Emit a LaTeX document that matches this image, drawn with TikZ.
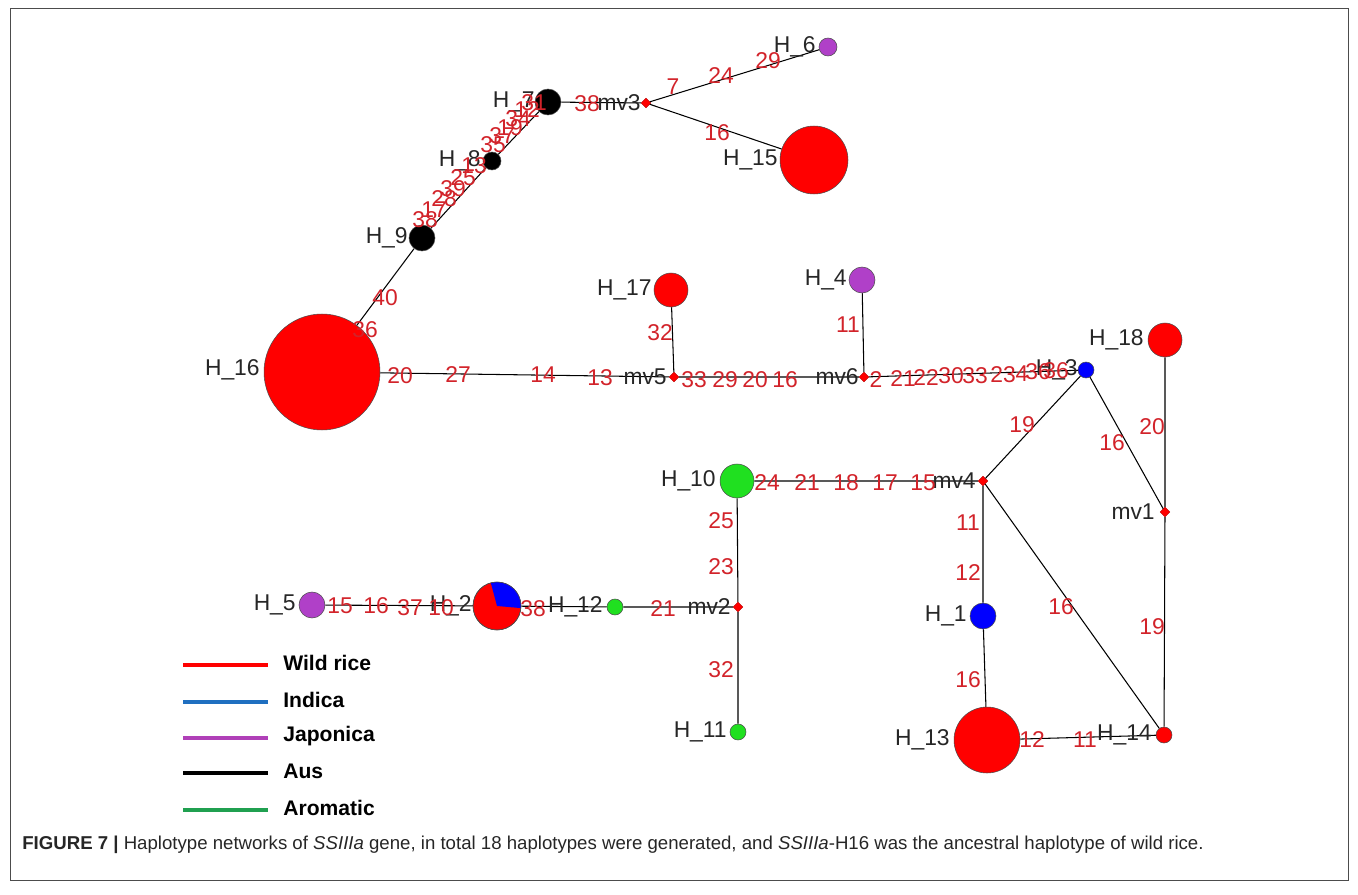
\documentclass[tikz,border=0pt]{standalone}
\usepackage{fontspec}
\setmainfont{Liberation Sans}
\usetikzlibrary{shapes.geometric}
\definecolor{numred}{HTML}{D2232A}
\definecolor{hred}{HTML}{FF0000}
\definecolor{hblue}{HTML}{0000FF}
\definecolor{hpurple}{HTML}{B040C8}
\definecolor{hgreen}{HTML}{20E020}
\definecolor{lblue}{HTML}{1F6FC0}
\definecolor{lpurple}{HTML}{B040B8}
\definecolor{lgreen}{HTML}{20A050}
\begin{document}
\begin{tikzpicture}[x=0.02cm,y=-0.02cm,
 hap/.style={circle,draw=black!70,line width=0.3pt,inner sep=0pt},
 mv/.style={diamond,fill=red,draw=red!70!black,line width=0.2pt,inner sep=0pt,minimum size=0.2cm},
 lab/.style={font=\fontsize{13}{15}\selectfont,text=black!85,inner sep=0pt,anchor=east},
 num/.style={font=\fontsize{13}{15}\selectfont,text=numred,inner sep=0pt},
 con/.style={line width=0.6pt,black},
 leg/.style={line width=2.8pt},
 legt/.style={font=\fontsize{12}{14}\selectfont\bfseries,anchor=west,inner sep=0pt}]
\useasboundingbox (0,0) rectangle (1358,895);
\draw[line width=0.5pt,black!70] (10,8) rectangle (1348,880);

% haplotype nodes
\node[hap,fill=hred,minimum size=2.32cm] (H16) at (322,372) {};
\node[hap,fill=hred,minimum size=1.36cm] (H15) at (814,160) {};
\node[hap,fill=hred,minimum size=1.32cm] (H13) at (987,740) {};
\node[hap,fill=hred,minimum size=0.96cm] (H2) at (497,606) {};
\node[hap,fill=hred,minimum size=0.68cm] (H17) at (671,290) {};
\node[hap,fill=hred,minimum size=0.68cm] (H18) at (1165,340) {};
\node[hap,fill=hgreen,minimum size=0.68cm] (H10) at (737,481) {};
\node[hap,fill=black,minimum size=0.52cm] (H7) at (548,102) {};
\node[hap,fill=black,minimum size=0.52cm] (H9) at (422,238) {};
\node[hap,fill=hpurple,minimum size=0.52cm] (H4) at (862,280) {};
\node[hap,fill=hpurple,minimum size=0.52cm] (H5) at (312,605) {};
\node[hap,fill=hblue,minimum size=0.52cm] (H1) at (983,616) {};
\node[hap,fill=black,minimum size=0.36cm] (H8) at (492,161) {};
\node[hap,fill=hpurple,minimum size=0.36cm] (H6) at (828,47) {};
\node[hap,fill=hblue,minimum size=0.32cm] (H3) at (1086,370) {};
\node[hap,fill=hgreen,minimum size=0.32cm] (H12) at (615,607) {};
\node[hap,fill=hgreen,minimum size=0.32cm] (H11) at (738,732) {};
\node[hap,fill=hred,minimum size=0.32cm] (H14) at (1164,735) {};
\fill[hblue] (H2.center) -- ++(-5:0.48cm) arc[start angle=-5,end angle=105,radius=0.48cm] -- cycle;
\draw[black!70,line width=0.3pt] (H2.center) circle[radius=0.48cm];

% median vectors
\node[mv] (mv3) at (646,103) {};
\node[mv] (mv5) at (674,377) {};
\node[mv] (mv6) at (864,377) {};
\node[mv] (mv1) at (1165,512) {};
\node[mv] (mv4) at (983,481) {};
\node[mv] (mv2) at (738,607) {};

% connectors
\draw[con] (H16)--(H9) (H9)--(H8) (H8)--(H7) (H7)--(mv3) (mv3)--(H6) (mv3)--(H15)
 (H16)--(mv5) (mv5)--(H17) (mv5)--(mv6) (mv6)--(H4) (mv6)--(H3)
 (H3)--(mv4) (H3)--(mv1) (H18)--(mv1) (mv1)--(H14)
 (mv4)--(H10) (mv4)--(H1) (mv4)--(H14) (H1)--(H13) (H13)--(H14)
 (H10)--(mv2) (mv2)--(H11) (mv2)--(H12) (H12)--(H2) (H2)--(H5);

% names
\node[lab] (lH6) at (816,47) {H\_6};
\node[lab] (lH7) at (535,102) {H\_7};
\node[lab] (lH8) at (481,161) {H\_8};
\node[lab] (lH9) at (408,238) {H\_9};
\node[lab] (lH15) at (778,160) {H\_15};
\node[lab] (lH16) at (260,370) {H\_16};
\node[lab] (lH17) at (652,290) {H\_17};
\node[lab] (lH4) at (847,280) {H\_4};
\node[lab] (lH3) at (1078,370) {H\_3};
\node[lab] (lH18) at (1144,340) {H\_18};
\node[lab] (lH10) at (716,481) {H\_10};
\node[lab] (lH12) at (603,607) {H\_12};
\node[lab] (lH2) at (472,606) {H\_2};
\node[lab] (lH5) at (296,605) {H\_5};
\node[lab] (lH1) at (967,616) {H\_1};
\node[lab] (lH11) at (727,732) {H\_11};
\node[lab] (lH13) at (950,740) {H\_13};
\node[lab] (lH14) at (1152,735) {H\_14};
\node[lab] (lmv3) at (641,103) {mv3};
\node[lab] (lmv5) at (667,377) {mv5};
\node[lab] (lmv6) at (859,377) {mv6};
\node[lab] (lmv1) at (1155,512) {mv1};
\node[lab] (lmv4) at (976,481) {mv4};
\node[lab] (lmv2) at (731,607) {mv2};

% mutation numbers
\node[num] (a1) at (365,330) {36};
\node[num] (a2) at (385,298) {40};
\node[num] (b1) at (425,220) {38};
\node[num] (b2) at (434,210) {17};
\node[num] (b3) at (444,199) {28};
\node[num] (b4) at (453,189) {39};
\node[num] (b5) at (463,178) {25};
\node[num] (b6) at (474,166) {13};
\node[num] (c1) at (493,145) {35};
\node[num] (c2) at (502,136) {37};
\node[num] (c3) at (510,128) {19};
\node[num] (c4) at (518,119) {34};
\node[num] (c5) at (527,110) {12};
\node[num] (c6) at (534,103) {31};
\node[num] (d1) at (587,104) {38};
\node[num] (e1) at (673,87) {7};
\node[num] (e2) at (721,76) {24};
\node[num] (e3) at (768,61) {29};
\node[num] (f1) at (717,133) {16};
\node[num] (g1) at (400,376) {20};
\node[num] (g2) at (458,375) {27};
\node[num] (g3) at (543,375) {14};
\node[num] (g4) at (600,378) {13};
\node[num] (h1) at (660,333) {32};
\node[num] (i1) at (694,380) {33};
\node[num] (i2) at (725,380) {29};
\node[num] (i3) at (755,380) {20};
\node[num] (i4) at (785,380) {16};
\node[num] (j1) at (848,325) {11};
\node[num] (k1) at (876,380) {2};
\node[num] (k2) at (903,379) {21};
\node[num] (k3) at (926,378) {22};
\node[num] (k4) at (951,376) {30};
\node[num] (k5) at (975,376) {33};
\node[num] (k6) at (1003,375) {23};
\node[num] (k7) at (1022,374) {4};
\node[num] (k8) at (1038,372) {36};
\node[num] (k9) at (1056,371) {36};
\node[num] (l1) at (1022,425) {19};
\node[num] (l2) at (1112,443) {16};
\node[num] (l3) at (1152,427) {20};
\node[num] (l4) at (1152,627) {19};
\node[num] (m1) at (767,483) {24};
\node[num] (m2) at (807,483) {21};
\node[num] (m3) at (846,483) {18};
\node[num] (m4) at (885,483) {17};
\node[num] (m5) at (923,483) {15};
\node[num] (n1) at (968,523) {11};
\node[num] (n2) at (968,573) {12};
\node[num] (n3) at (1061,607) {16};
\node[num] (n4) at (968,680) {16};
\node[num] (n5) at (1032,740) {12};
\node[num] (n6) at (1085,740) {11};
\node[num] (o1) at (721,521) {25};
\node[num] (o2) at (721,567) {23};
\node[num] (o3) at (721,670) {32};
\node[num] (o4) at (663,609) {21};
\node[num] (o5) at (533,609) {38};
\node[num] (p1) at (340,606) {15};
\node[num] (p2) at (376,606) {16};
\node[num] (p3) at (410,608) {37};
\node[num] (p4) at (441,608) {10};

% legend
\coordinate (L1a) at (183,665); \coordinate (L1b) at (268,665);
\coordinate (L2a) at (183,702); \coordinate (L2b) at (268,702);
\coordinate (L3a) at (183,738); \coordinate (L3b) at (268,738);
\coordinate (L4a) at (183,773); \coordinate (L4b) at (268,773);
\coordinate (L5a) at (183,810); \coordinate (L5b) at (268,810);
\draw[leg,hred] (L1a)--(L1b);
\draw[leg,lblue] (L2a)--(L2b);
\draw[leg,lpurple] (L3a)--(L3b);
\draw[leg,black] (L4a)--(L4b);
\draw[leg,lgreen] (L5a)--(L5b);
\node[legt] (t1) at (283,663) {Wild rice};
\node[legt] (t2) at (283,700) {Indica};
\node[legt] (t3) at (283,736) {Japonica};
\node[legt] (t4) at (283,771) {Aus};
\node[legt] (t5) at (283,808) {Aromatic};

% caption
\node[anchor=west,inner sep=0pt,font=\fontsize{10.6}{12}\selectfont,text=black!85] (cap) at (22,845)
 {\textbf{FIGURE 7 |} Haplotype networks of \textit{SSIIIa} gene, in total 18 haplotypes were generated, and \textit{SSIIIa}-H16 was the ancestral haplotype of wild rice.};
\end{tikzpicture}
\end{document}
